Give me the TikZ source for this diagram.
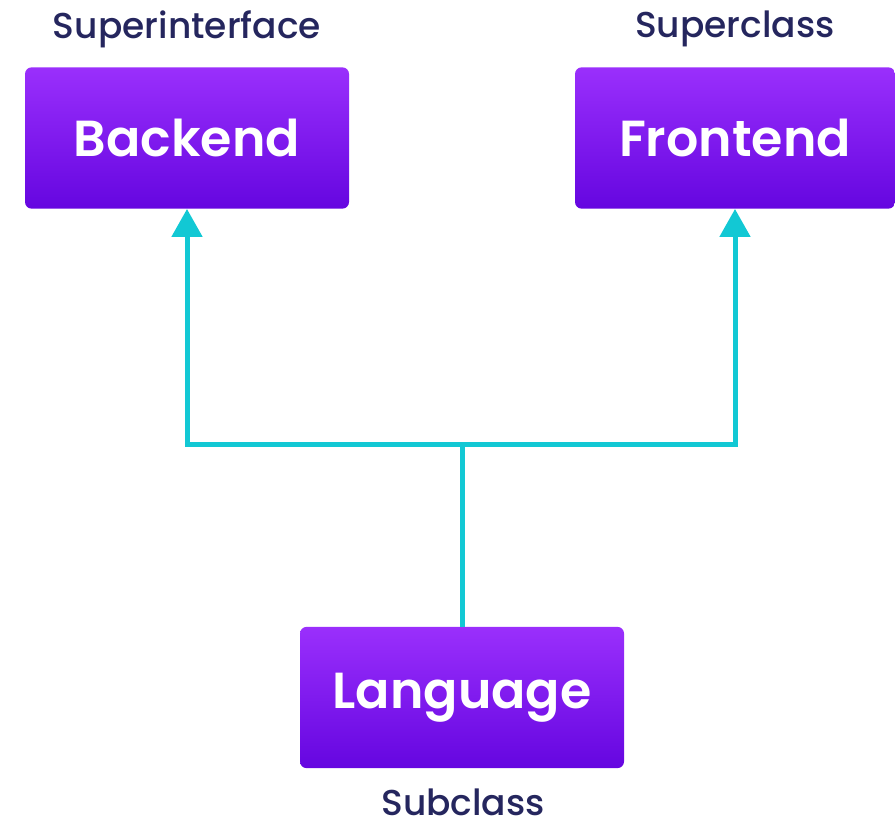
\documentclass[tikz,border=0pt]{standalone}
\usepackage{fontspec}
\setmainfont{Poppins}[BoldFont=Poppins SemiBold]
\newfontfamily\rolefont{Poppins Medium}
\usetikzlibrary{arrows.meta}
\definecolor{boxtop}{RGB}{154, 47, 252}
\definecolor{boxbot}{RGB}{101, 6, 224}
\definecolor{linkcol}{RGB}{18, 200, 212}
\definecolor{labelcol}{RGB}{37, 38, 94}

\begin{document}
\begin{tikzpicture}[x=0.75pt, y=-0.75pt,
    classbox/.style={rounded corners=5pt, top color=boxtop, bottom color=boxbot,
      draw=none, text=white, font=\fontsize{38}{38}\selectfont\bfseries,
      minimum height=106pt, inner sep=0pt},
    role/.style={text=labelcol, font=\fontsize{27}{27}\selectfont\rolefont, inner sep=1pt},
    link/.style={linkcol, line width=3.75pt},
    tip/.style={-{Triangle[width=22.5pt, length=21pt]}}]
        \useasboundingbox (0,0) rectangle (895,827);
        \node [classbox, minimum width=243pt] (back) at (187,138) {Backend};
        \node [classbox, minimum width=240pt] (front) at (735,138) {Frontend};
        \node [classbox, minimum width=243pt] (lang) at (462,697.5) {Language};
        \node [role] (supi) at (187,29) {Superinterface};
        \node [role] (supc) at (735,29) {Superclass};
        \node [role, anchor=base] (subc) at (463,815) {Subclass};
        \coordinate (join) at (462,444.5);
        % lines up from the subclass
        \draw [link] (lang.north) -- (join);
        \draw [link, tip] (join) -| (back.south);
        \draw [link, tip] (join) -| (front.south);
      \end{tikzpicture}
\end{document}
